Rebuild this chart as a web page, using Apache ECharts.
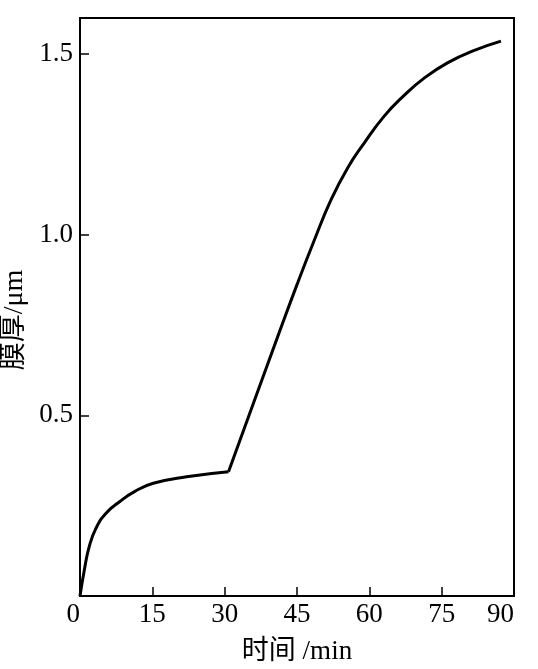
<!DOCTYPE html>
<html>
<head>
<meta charset="utf-8">
<script src="https://cdn.jsdelivr.net/npm/echarts@6/dist/echarts.min.js"></script>
<style>
  html, body { margin: 0; padding: 0; background: #fff; }
  #chart { width: 538px; height: 669px; }
</style>
</head>
<body>
<div id="chart"></div>
<script>
// first stage: slow growth up to the kink
var time1 = [0, 0.9, 1.9, 3.3, 5.4, 8.2, 11.3, 15.2, 22.1, 30.8]
var thick1 = [0, 0.072, 0.136, 0.187, 0.229, 0.261, 0.289, 0.312, 0.330, 0.344]
// second stage: fast growth after the kink
var time2 = [30.8, 36, 41, 45, 48.5, 52, 55.5, 59, 63, 67, 71.5, 76.5, 81.5, 87.3]
var thick2 = [0.344, 0.535, 0.718, 0.862, 0.982, 1.095, 1.185, 1.255, 1.327, 1.383, 1.435, 1.478, 1.509, 1.536]

var xTicks = [0, 15, 30, 45, 60, 75, 90]
var yTicks = ['0.5', '1.0', '1.5']

function pairs (xs, ys) {
  return xs.map(function (x, i) { return [x, ys[i]] })
}

var font = '"Liberation Serif", "Times New Roman", "Noto Sans CJK SC", serif'

var myChart = echarts.init(document.getElementById('chart'))
myChart.setOption({
  backgroundColor: '#fff',
  animation: false,
  grid: {
    left: 80,
    top: 18,
    right: 24,
    bottom: 73,
    show: true,
    borderColor: '#000',
    borderWidth: 2,
    containLabel: false,
    outerBoundsMode: 'none'
  },
  xAxis: {
    type: 'value',
    min: 0,
    max: 90,
    interval: 15,
    name: '时间 /min',
    nameLocation: 'middle',
    nameGap: 42,
    nameTextStyle: { color: '#000', fontSize: 27, fontFamily: font },
    axisLine: { onZero: false, lineStyle: { color: '#000', width: 2 } },
    axisTick: { inside: true, length: 9, lineStyle: { color: '#000', width: 1.5 } },
    axisLabel: {
      color: '#000',
      fontSize: 27,
      fontFamily: font,
      margin: 5,
      alignMinLabel: 'right',
      alignMaxLabel: 'right',
      formatter: function (v) { return xTicks.indexOf(v) >= 0 ? String(v) : '' }
    },
    splitLine: { show: false }
  },
  yAxis: {
    type: 'value',
    min: 0,
    max: 1.6,
    interval: 0.5,
    name: '膜厚/μm',
    nameLocation: 'middle',
    nameRotate: 90,
    nameGap: 48,
    nameTextStyle: { color: '#000', fontSize: 28, fontFamily: font, padding: [0, 26, 0, 0] },
    axisLine: { onZero: false, lineStyle: { color: '#000', width: 2 } },
    axisTick: { inside: true, length: 9, lineStyle: { color: '#000', width: 1.5 } },
    axisLabel: {
      color: '#000',
      fontSize: 27,
      fontFamily: font,
      margin: 7,
      formatter: function (v) {
        var s = v.toFixed(1)
        return yTicks.indexOf(s) >= 0 ? s : ''
      }
    },
    splitLine: { show: false }
  },
  series: [
    {
      type: 'line',
      smooth: true,
      symbol: 'none',
      data: pairs(time1, thick1),
      lineStyle: { color: '#000', width: 3 }
    },
    {
      type: 'line',
      smooth: true,
      symbol: 'none',
      data: pairs(time2, thick2),
      lineStyle: { color: '#000', width: 3 }
    }
  ]
})
window.addEventListener('resize', function () {
  myChart.resize()
})
</script>
</body>
</html>
